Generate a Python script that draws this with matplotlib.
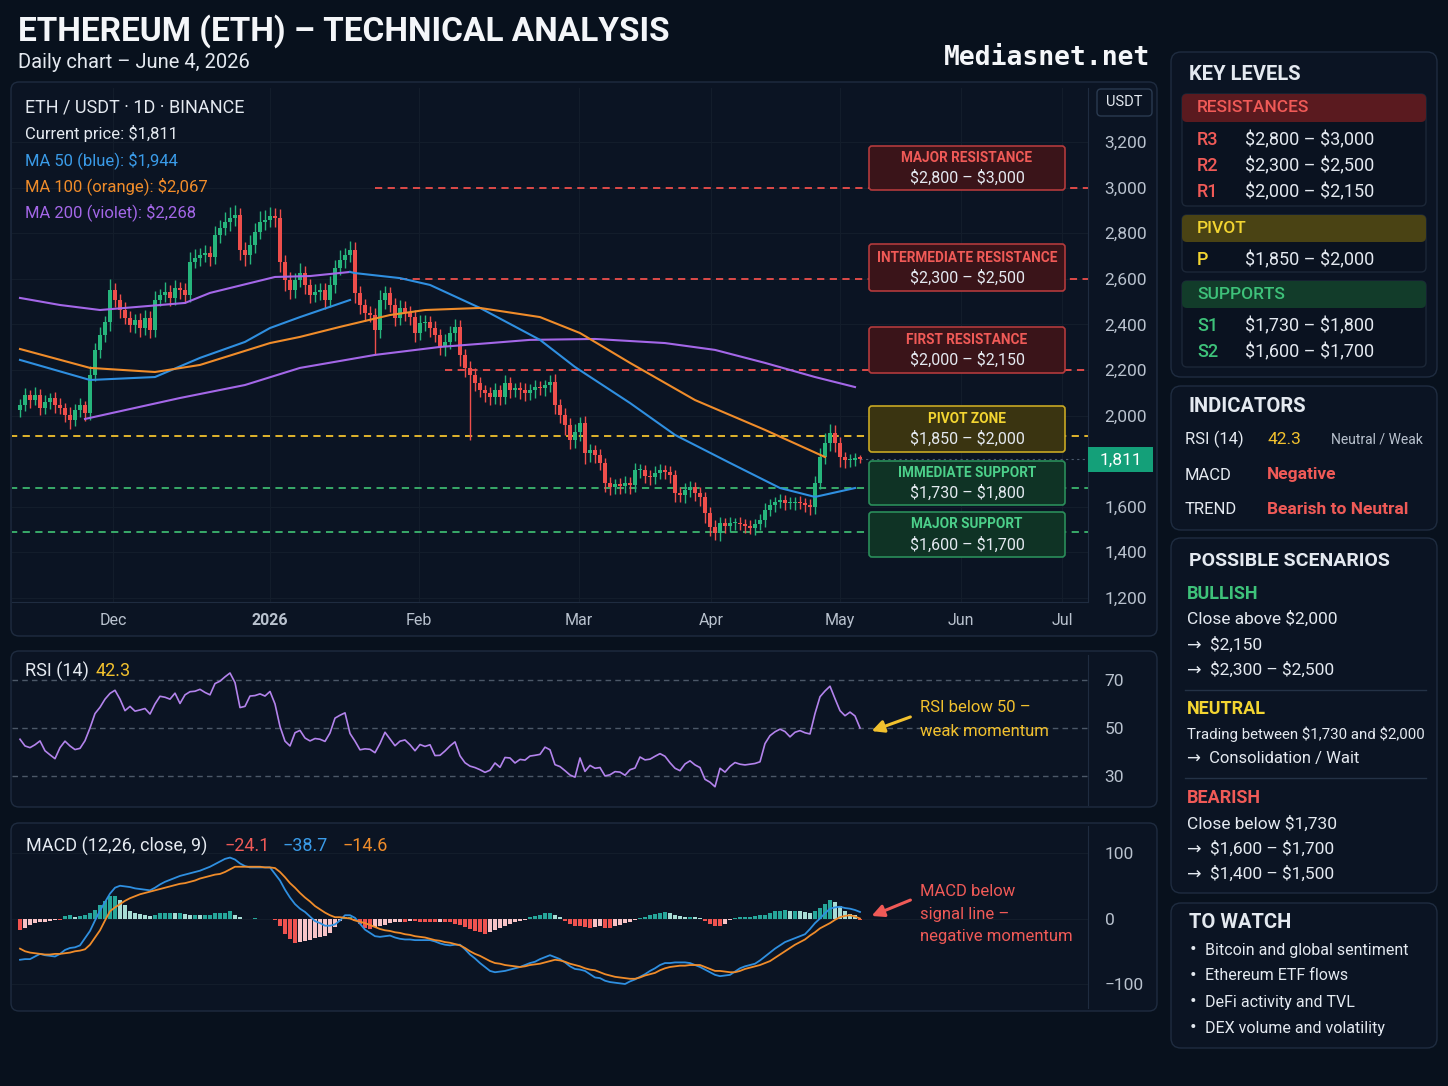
import numpy as np
import matplotlib
matplotlib.use("Agg")
import matplotlib.pyplot as plt
from matplotlib import font_manager
from matplotlib.patches import FancyBboxPatch, Rectangle

# --- fonts
avail = {f.name for f in font_manager.fontManager.ttflist}
FONT = next(f for f in ["Liberation Sans Narrow", "Roboto", "DejaVu Sans"] if f in avail)
plt.rcParams["font.family"] = [FONT, "DejaVu Sans"]

# --- data (daily candles, one per day)
first_open = 2025
close = [
    2046, 2090, 2068, 2090, 2033, 2060, 2077, 2046, 2033, 2003, 1981, 2025, 2046,
    2011, 2178, 2288, 2353, 2410, 2551, 2507, 2463, 2428, 2397, 2419, 2384, 2428,
    2375, 2507, 2529, 2542, 2516, 2560, 2551, 2529, 2674, 2691, 2704, 2713, 2696,
    2792, 2823, 2849, 2867, 2880, 2726, 2704, 2748, 2805, 2849, 2858, 2875, 2867,
    2674, 2595, 2551, 2595, 2625, 2573, 2529, 2542, 2551, 2507, 2573, 2647, 2682,
    2704, 2726, 2538, 2485, 2450, 2441, 2375, 2507, 2538, 2485, 2428, 2472, 2454,
    2432, 2362, 2406, 2410, 2384, 2353, 2301, 2323, 2362, 2389, 2266, 2209, 2178,
    2143, 2112, 2099, 2082, 2112, 2082, 2143, 2112, 2121, 2112, 2099, 2112, 2125,
    2121, 2134, 2147, 2046, 2003, 1959, 1893, 1928, 1968, 1836, 1849, 1827, 1792,
    1704, 1687, 1700, 1691, 1704, 1696, 1761, 1761, 1735, 1731, 1748, 1761, 1753,
    1739, 1660, 1652, 1674, 1687, 1660, 1643, 1573, 1511, 1485, 1529, 1516, 1529,
    1529, 1525, 1516, 1507, 1525, 1542, 1586, 1608, 1621, 1630, 1617, 1617, 1621,
    1617, 1608, 1599, 1704, 1818, 1880, 1924, 1880, 1818, 1805, 1805, 1814, 1811,
]
wick_up = [
    25, 30, 20, 35, 25, 30, 20, 25, 30, 20, 35, 25, 30,
    20, 40, 30, 35, 25, 50, 30, 25, 35, 30, 25, 30, 35,
    30, 40, 25, 45, 30, 35, 25, 30, 45, 40, 30, 35, 30,
    40, 35, 45, 50, 45, 30, 35, 45, 40, 50, 45, 40, 35,
    40, 30, 35, 30, 45, 30, 25, 35, 30, 30, 40, 35, 45,
    30, 40, 35, 30, 25, 30, 30, 45, 30, 25, 30, 35, 30,
    25, 30, 35, 30, 25, 30, 25, 35, 30, 35, 30, 25, 30,
    30, 25, 20, 25, 30, 20, 35, 25, 20, 25, 30, 25, 30,
    25, 20, 30, 35, 25, 30, 30, 35, 25, 30, 25, 20, 25,
    20, 25, 20, 25, 30, 25, 30, 25, 20, 25, 30, 25, 20,
    25, 20, 25, 30, 25, 20, 25, 20, 25, 30, 25, 20, 25,
    20, 25, 20, 25, 20, 25, 30, 25, 20, 25, 20, 25, 20,
    25, 20, 25, 30, 40, 45, 40, 35, 25, 20, 25, 20, 15,
]
wick_dn = [
    30, 25, 35, 20, 30, 25, 30, 35, 25, 30, 40, 25, 30,
    35, 30, 25, 35, 30, 40, 30, 35, 25, 30, 35, 40, 30,
    35, 30, 25, 30, 35, 30, 40, 35, 30, 25, 35, 30, 40,
    30, 35, 30, 40, 35, 45, 50, 40, 35, 30, 35, 30, 40,
    45, 50, 40, 35, 30, 40, 35, 30, 35, 40, 30, 35, 30,
    35, 30, 45, 40, 35, 30, 110, 35, 40, 30, 35, 30, 40,
    35, 40, 30, 35, 40, 30, 35, 40, 30, 35, 50, 40, 285,
    35, 30, 40, 35, 30, 35, 30, 35, 30, 40, 35, 30, 35,
    30, 35, 30, 40, 35, 45, 40, 35, 40, 50, 40, 35, 30,
    40, 35, 30, 35, 30, 40, 30, 35, 30, 35, 30, 25, 30,
    35, 40, 30, 35, 30, 35, 40, 45, 40, 30, 35, 30, 25,
    30, 25, 30, 25, 30, 25, 30, 25, 30, 25, 30, 25, 30,
    25, 30, 35, 30, 25, 30, 35, 40, 45, 35, 30, 25, 20,
]

# moving averages as drawn (day index, price)
ma50_day = [66, 67, 76, 82, 92, 104, 111, 122, 131, 142, 152, 159, 167]
ma50_val = [2630, 2625, 2603, 2573, 2472, 2332, 2213, 2055, 1915, 1792, 1682, 1643, 1682]
ma50b_day = [0, 14, 27, 36, 45, 50, 56, 66]
ma50b_val = [2244, 2156, 2169, 2253, 2323, 2384, 2432, 2507]
ma100_day = [0, 14, 27, 36, 50, 56, 64, 74, 81, 92, 104, 112, 122, 135, 149, 161]
ma100_val = [2292, 2209, 2191, 2222, 2318, 2345, 2389, 2441, 2463, 2472, 2432, 2362, 2231, 2068, 1937, 1818]
ma200_day = [13, 32, 45, 56, 71, 84, 94, 102, 115, 129, 139, 149, 159, 167]
ma200_val = [1985, 2077, 2134, 2209, 2266, 2301, 2318, 2332, 2336, 2318, 2288, 2231, 2169, 2125]
ma200b_day = [0, 8, 16, 33, 38, 51, 58, 66]
ma200b_val = [2516, 2485, 2463, 2494, 2538, 2608, 2612, 2630]

rsi = [
    45.3, 42.5, 41.8, 43.0, 44.6, 40.5, 38.8, 37.2, 41.8, 44.5, 42.5, 41.0, 41.5,
    44.7, 50.0, 56.0, 58.6, 62.0, 64.4, 65.7, 62.0, 57.2, 59.0, 57.0, 57.5, 58.1,
    55.8, 60.0, 63.2, 62.8, 62.0, 64.5, 60.2, 63.8, 65.1, 65.3, 66.1, 64.8, 63.8,
    68.5, 69.5, 71.3, 72.9, 68.9, 58.5, 59.0, 63.3, 63.5, 64.2, 63.3, 65.2, 60.0,
    50.6, 44.5, 42.5, 48.0, 49.0, 45.8, 44.6, 45.6, 45.3, 44.4, 47.9, 54.1, 55.3,
    56.3, 47.7, 44.5, 40.9, 41.3, 41.1, 39.7, 43.5, 48.2, 45.4, 42.6, 44.5, 45.0,
    43.0, 40.5, 43.1, 42.3, 43.0, 38.5, 38.6, 40.4, 42.5, 44.2, 38.4, 35.5, 34.1,
    33.5, 32.6, 31.5, 32.4, 35.4, 33.6, 37.7, 37.5, 35.4, 36.9, 36.6, 38.3, 38.6,
    39.0, 42.0, 40.9, 34.7, 33.9, 32.2, 30.4, 29.5, 37.5, 31.9, 34.4, 33.2, 33.5,
    30.0, 30.5, 31.8, 31.6, 30.3, 32.6, 33.3, 37.9, 36.7, 37.0, 38.2, 39.3, 38.2,
    35.5, 33.2, 32.2, 35.0, 36.3, 34.6, 33.5, 28.6, 27.4, 25.5, 33.2, 31.6, 34.0,
    35.6, 34.9, 34.6, 34.9, 35.2, 35.9, 43.5, 46.8, 48.4, 49.5, 48.5, 46.3, 48.2,
    48.9, 48.0, 47.5, 56.0, 63.0, 65.4, 67.4, 62.2, 57.2, 55.1, 56.6, 55.0, 50.0,
]
macd = [
    -63, -62, -62, -58, -54, -56, -57, -58, -54, -48, -45, -44, -41,
    -30, -19, -3, 12, 25, 38, 47, 50, 49, 48, 46, 45, 44,
    43, 47, 52, 56, 59, 62, 65, 67, 69, 71, 73, 76, 79,
    83, 87, 91, 93, 90, 84, 80, 78, 78, 78, 78, 78, 68,
    58, 44, 32, 22, 15, 10, 3, -4, -7, -11, -11, -9, -3,
    5, 5, 1, -8, -17, -22, -27, -28, -27, -26, -29, -31, -32,
    -32, -33, -33, -33, -33, -35, -38, -40, -41, -40, -40, -47, -55,
    -61, -68, -74, -80, -82, -81, -80, -78, -76, -74, -71, -68, -66,
    -62, -59, -56, -59, -62, -67, -73, -77, -78, -80, -85, -90, -91,
    -95, -97, -98, -99, -100, -96, -93, -89, -85, -80, -76, -71, -68,
    -68, -67, -67, -67, -68, -71, -74, -78, -82, -86, -88, -87, -86,
    -81, -76, -73, -71, -69, -64, -58, -52, -46, -41, -36, -33, -30,
    -27, -24, -16, -7, 0, 8, 15, 17, 18, 16, 15, 13, 10,
]
signal = [
    -46, -50, -52, -53, -54, -55, -55, -54, -54, -53, -52, -50, -49,
    -47, -40, -29, -18, -3, 11, 17, 22, 27, 31, 34, 37, 39,
    41, 43, 45, 47, 49, 51, 53, 54, 56, 58, 61, 63, 65,
    67, 68, 71, 75, 79, 79, 79, 79, 79, 79, 78, 78, 77,
    71, 63, 54, 47, 39, 32, 26, 19, 14, 9, 5, 2, 2,
    1, 0, -3, -5, -7, -10, -13, -16, -18, -19, -21, -22, -24,
    -25, -27, -28, -29, -31, -33, -34, -36, -37, -39, -41, -45, -50,
    -54, -57, -61, -65, -68, -69, -71, -72, -73, -74, -73, -71, -70,
    -69, -67, -65, -63, -64, -66, -69, -71, -73, -76, -78, -79, -82,
    -85, -87, -89, -90, -91, -92, -92, -90, -87, -85, -83, -79, -76,
    -74, -73, -72, -72, -71, -71, -71, -74, -77, -80, -80, -81, -82,
    -82, -80, -77, -75, -73, -71, -68, -65, -60, -55, -50, -45, -40,
    -36, -32, -26, -21, -15, -11, -7, -2, 2, 4, 5, 3, 0,
]
hist = [
    -18, -15, -10, -7, -6, -5, -4, -3, -3, 4, 5, 3, 4,
    6, 9, 13, 20, 27, 34, 34, 29, 20, 12, 9, 7, 6,
    4, 6, 8, 8, 9, 8, 8, 7, 6, 6, 5, 5, 6,
    8, 8, 9, 11, 6, 2, -1, 0, 1, -1, -1, 0, -3,
    -12, -24, -32, -38, -36, -35, -33, -30, -28, -26, -22, -13, -4,
    2, 3, -4, -9, -14, -16, -13, -11, -10, -7, -6, -5, -5,
    -4, -4, -5, -5, -6, -6, -5, -5, -6, -8, -10, -13, -16,
    -19, -21, -23, -21, -17, -15, -11, -8, -6, -4, -3, 2, 4,
    6, 8, 8, 5, 3, -4, -9, -11, -12, -13, -14, -13, -12,
    -14, -14, -12, -10, -7, -5, -2, 1, 3, 5, 7, 9, 10,
    9, 6, 4, 3, 3, 2, 1, -4, -8, -11, -11, -8, -3,
    1, 2, 3, 3, 4, 5, 6, 9, 11, 12, 13, 12, 12,
    11, 10, 9, 12, 16, 22, 28, 25, 19, 12, 7, 5, -3,
]

levels = [3000, 2600, 2200, 1910, 1680, 1490]
level_start = [71, 76, 85, -2, -2, -2]
price_ticks = [1200, 1400, 1600, 2000, 2200, 2400, 2600, 2800, 3000, 3200]
month_pos = [18.6, 50, 79.8, 111.8, 138.2, 164, 188.2, 208.4]
month_lab = ["Dec", "2026", "Feb", "Mar", "Apr", "May", "Jun", "Jul"]

# --- colours
BG = "#08111d"
PANEL = "#0b1423"
EDGE = "#1f2c40"
GRID = "#131d2b"
TXT = "#e4e9f0"
SUB = "#b9c2ce"
GREEN = "#26b57c"
RED = "#ee4e4b"
BLUE = "#2f8fe0"
ORANGE = "#f08c2a"
VIOLET = "#a467e8"
YEL = "#f2c12e"
LRED = "#f05a57"
LGREEN = "#3ec27a"

W, H = 1448, 1086
fig = plt.figure(figsize=(W / 100, H / 100), dpi=100, facecolor=BG)


def rect(x0, y0, x1, y1):
    return [x0 / W, 1 - y1 / H, (x1 - x0) / W, (y1 - y0) / H]


def overlay(z):
    a = fig.add_axes([0, 0, 1, 1], zorder=z)
    a.set_xlim(0, W)
    a.set_ylim(H, 0)
    a.axis("off")
    a.patch.set_alpha(0)
    return a


bg = overlay(0)
fg = overlay(10)


def box(ax, x0, y0, x1, y1, fc, ec, r=8, lw=1.0):
    ax.add_patch(FancyBboxPatch((x0, y0), x1 - x0, y1 - y0,
                                boxstyle=f"round,pad=0,rounding_size={r}",
                                fc=fc, ec=ec, lw=lw))


def txt(x, y, s, size, color=TXT, weight="normal", ha="left", ax=fg, **kw):
    ax.text(x, y, s, fontsize=size, color=color, fontweight=weight,
            ha=ha, va="center", parse_math=False, **kw)


# panel backgrounds
box(bg, 11, 82, 1157, 636, PANEL, EDGE)
box(bg, 11, 651, 1157, 807, PANEL, EDGE)
box(bg, 11, 823, 1157, 1011, PANEL, EDGE)
box(bg, 1171, 52, 1437, 377, PANEL, EDGE, r=10)
box(bg, 1171, 386, 1437, 530, PANEL, EDGE, r=10)
box(bg, 1171, 538, 1437, 893, PANEL, EDGE, r=10)
box(bg, 1171, 903, 1437, 1048, PANEL, EDGE, r=10)

# --- price chart
ax = fig.add_axes(rect(12, 88, 1088, 602), zorder=2)
ax.patch.set_alpha(0)
n = len(close)
idx = np.arange(n)
c = np.array(close, float)
o = np.concatenate([[first_open], c[:-1]])
hi = np.maximum(o, c) + np.array(wick_up)
lo = np.minimum(o, c) - np.array(wick_dn)
col = np.where(c >= o, GREEN, RED)
ax.vlines(idx, lo, hi, colors=col, lw=1.0, zorder=3)
ax.bar(idx, np.maximum(np.abs(c - o), 5), bottom=np.minimum(o, c), width=0.75,
       color=col, zorder=4)

ax.plot(ma200b_day, ma200b_val, color=VIOLET, lw=1.5, zorder=5)
ax.plot(ma200_day, ma200_val, color=VIOLET, lw=1.5, zorder=5)
ax.plot(ma50b_day, ma50b_val, color=BLUE, lw=1.5, zorder=5)
ax.plot(ma50_day, ma50_val, color=BLUE, lw=1.5, zorder=5)
ax.plot(ma100_day, ma100_val, color=ORANGE, lw=1.5, zorder=5)

lvl_col = [RED, RED, RED, YEL, "#3cb66f", "#3cb66f"]
for lv, st, lc in zip(levels, level_start, lvl_col):
    ax.hlines(lv, st, 214, colors=lc, lw=1.3, linestyles=(0, (4, 3)), zorder=2)
ax.hlines(close[-1], n - 1, 214, colors="#4a5a6c", lw=0.8, linestyles=(0, (2, 3)), zorder=2)

ax.set_xlim(-1.6, 213.6)
ax.set_ylim(1182, 3437)
ax.set_yticks(price_ticks)
ax.set_yticklabels([f"{v:,}" for v in price_ticks])
ax.yaxis.tick_right()
ax.set_xticks(month_pos)
ax.set_xticklabels(month_lab)
for lab in ax.get_xticklabels():
    if lab.get_text() == "2026":
        lab.set_fontweight("bold")
ax.tick_params(axis="y", length=0, pad=12, labelsize=12.5, colors=SUB)
ax.tick_params(axis="x", length=0, pad=8, labelsize=11.5, colors=SUB)
ax.grid(True, color=GRID, lw=0.8)
ax.set_axisbelow(True)
for s in ["top", "left"]:
    ax.spines[s].set_visible(False)
for s in ["right", "bottom"]:
    ax.spines[s].set_color(EDGE)

# --- RSI
ar = fig.add_axes(rect(12, 655, 1088, 805), zorder=2)
ar.patch.set_alpha(0)
for lv in [70, 50, 30]:
    ar.axhline(lv, color="#4c5868", lw=1, ls=(0, (4, 3)))
ar.plot(idx, rsi, color="#b383ec", lw=1.2)
ar.set_xlim(-1.6, 213.6)
ar.set_ylim(17.9, 80.4)
ar.set_yticks([30, 50, 70])
ar.yaxis.tick_right()
ar.set_xticks([])
ar.tick_params(axis="y", length=0, pad=12, labelsize=12.5, colors=SUB)
for s in ["top", "left", "bottom"]:
    ar.spines[s].set_visible(False)
ar.spines["right"].set_color(EDGE)

# --- MACD
am = fig.add_axes(rect(12, 826, 1088, 1008), zorder=2)
am.patch.set_alpha(0)
h = np.array(hist, float)
prev = np.concatenate([[0], h[:-1]])
hcol = np.where(h >= 0, np.where(h >= prev, "#26a69a", "#a8dcd4"),
                np.where(h <= prev, "#ef5350", "#f7c3c6"))
am.bar(idx, h, width=0.75, color=hcol, zorder=2)
am.plot(idx, macd, color="#2f8fe0", lw=1.3, zorder=3)
am.plot(idx, signal, color=ORANGE, lw=1.3, zorder=3)
am.set_xlim(-1.6, 213.6)
am.set_ylim(-136.6, 141.2)
am.set_yticks([-100, 0, 100])
am.set_yticklabels(["\u2212100", "0", "100"])
am.yaxis.tick_right()
am.set_xticks([])
am.grid(True, axis="y", color=GRID, lw=0.8)
am.tick_params(axis="y", length=0, pad=12, labelsize=12.5, colors=SUB)
for s in ["top", "left", "bottom"]:
    am.spines[s].set_visible(False)
am.spines["right"].set_color(EDGE)

# --- titles
txt(18, 31, "ETHEREUM (ETH) \u2013 TECHNICAL ANALYSIS", 24, "#f4f6f9", "bold")
txt(18, 63, "Daily chart \u2013 June 4, 2026", 14.5, TXT)
fg.text(1150, 58, "Mediasnet.net", fontsize=19, color="#f4f6f9", fontweight="bold",
        family="DejaVu Sans Mono", ha="right", va="center")

txt(25, 107, "ETH / USDT \u00b7 1D \u00b7 BINANCE", 13, TXT)
txt(25, 134, "Current price: $1,811", 12, TXT)
txt(25, 160, "MA 50 (blue): $1,944", 12, "#3a9be8")
txt(25, 186, "MA 100 (orange): $2,067", 12, ORANGE)
txt(25, 212, "MA 200 (violet): $2,268", 12, VIOLET)

# USDT tag and current price tag
box(fg, 1097, 89, 1152, 116, PANEL, "#2a3a50", r=4)
txt(1124.5, 102.5, "USDT", 10.5, TXT, ha="center")
fg.add_patch(Rectangle((1088, 447), 65, 25, fc="#14a079", ec="none"))
txt(1120.5, 460, "1,811", 12.5, "#ffffff", ha="center")

# level label boxes
lbl = [
    (146, 190, "MAJOR RESISTANCE", "$2,800 \u2013 $3,000", "r"),
    (244, 291, "INTERMEDIATE RESISTANCE", "$2,300 \u2013 $2,500", "r"),
    (327, 373, "FIRST RESISTANCE", "$2,000 \u2013 $2,150", "r"),
    (406, 452, "PIVOT ZONE", "$1,850 \u2013 $2,000", "y"),
    (461, 505, "IMMEDIATE SUPPORT", "$1,730 \u2013 $1,800", "g"),
    (512, 557, "MAJOR SUPPORT", "$1,600 \u2013 $1,700", "g"),
]
sty = {"r": ("#3a1419", "#b33a3c", LRED),
       "y": ("#3a3411", "#c8a823", "#f3d531"),
       "g": ("#0f3325", "#2a8e5a", "#4cd08a")}
for y0, y1, t, v, k in lbl:
    fc, ec, tc = sty[k]
    box(fg, 869, y0, 1065, y1, fc, ec, r=3, lw=1.2)
    ym = (y0 + y1) / 2
    txt(967, ym - 10, t, 9.8, tc, "bold", ha="center")
    txt(967, ym + 10, v, 11.5, TXT, ha="center")

# indicator headers
txt(25, 671, "RSI (14)", 13, TXT)
txt(96, 671, "42.3", 13, YEL)
fg.annotate("", xy=(869, 732), xytext=(913, 716),
            arrowprops=dict(arrowstyle="-|>", color=YEL, lw=2.2, mutation_scale=18))
txt(920, 708, "RSI below 50 \u2013", 12, YEL)
txt(920, 731, "weak momentum", 12, YEL)

txt(26, 846, "MACD (12,26, close, 9)", 13, TXT)
txt(224, 846, "\u221224.1", 13, LRED)
txt(283, 846, "\u221238.7", 13, "#3a9be8")
txt(343, 846, "\u221214.6", 13, ORANGE)
fg.annotate("", xy=(869, 917), xytext=(913, 899),
            arrowprops=dict(arrowstyle="-|>", color=LRED, lw=2.2, mutation_scale=18))
txt(920, 892, "MACD below", 12, LRED)
txt(920, 914, "signal line \u2013", 12, LRED)
txt(920, 937, "negative momentum", 12, LRED)

# --- right column: key levels
txt(1189, 75, "KEY LEVELS", 14.5, TXT, "bold")
sections = [
    (94, 122, 206, "RESISTANCES", "#5a1a1f", LRED,
     [("R3", "$2,800 \u2013 $3,000"), ("R2", "$2,300 \u2013 $2,500"), ("R1", "$2,000 \u2013 $2,150")]),
    (215, 242, 272, "PIVOT", "#4a4314", "#f3d531", [("P", "$1,850 \u2013 $2,000")]),
    (281, 308, 367, "SUPPORTS", "#123c2a", LGREEN,
     [("S1", "$1,730 \u2013 $1,800"), ("S2", "$1,600 \u2013 $1,700")]),
]
for y0, y1, y2, title, hc, tc, rows in sections:
    box(fg, 1182, y0, 1426, y2, "#0a1220", "#1c2738", r=5)
    box(fg, 1182, y0, 1426, y1, hc, "none", r=5)
    txt(1197, (y0 + y1) / 2, title, 12.5, tc, "medium")
    for k, (a, b) in enumerate(rows):
        yy = y1 + 18 + 26 * k
        txt(1197, yy, a, 13, tc, "medium")
        txt(1245, yy, b, 13, TXT)

# indicators
txt(1189, 406, "INDICATORS", 14.5, TXT, "bold")
txt(1185, 439, "RSI (14)", 12, TXT)
txt(1267, 439, "42.3", 12.5, YEL)
txt(1331, 439, "Neutral / Weak", 10, SUB)
txt(1185, 475, "MACD", 12, TXT)
txt(1267, 475, "Negative", 12.5, LRED, "bold")
txt(1185, 510, "TREND", 12, TXT)
txt(1267, 510, "Bearish to Neutral", 12.5, LRED, "bold")

# scenarios
txt(1189, 561, "POSSIBLE SCENARIOS", 14, TXT, "bold")
txt(1187, 594, "BULLISH", 13, LGREEN, "bold")
txt(1187, 619, "Close above $2,000", 12.5, TXT)
txt(1187, 645, "\u2192  $2,150", 12.5, TXT)
txt(1187, 670, "\u2192  $2,300 \u2013 $2,500", 12.5, TXT)
fg.plot([1185, 1426], [690, 690], color="#243246", lw=1)
txt(1187, 709, "NEUTRAL", 13, "#f3d531", "bold")
txt(1187, 734, "Trading between $1,730 and $2,000", 10.8, TXT)
txt(1187, 758, "\u2192  Consolidation / Wait", 12, TXT)
fg.plot([1185, 1426], [778, 778], color="#243246", lw=1)
txt(1187, 798, "BEARISH", 13, LRED, "bold")
txt(1187, 824, "Close below $1,730", 12.5, TXT)
txt(1187, 849, "\u2192  $1,600 \u2013 $1,700", 12.5, TXT)
txt(1187, 874, "\u2192  $1,400 \u2013 $1,500", 12.5, TXT)

# to watch
txt(1189, 922, "TO WATCH", 14.5, TXT, "bold")
watch = ["Bitcoin and global sentiment", "Ethereum ETF flows",
         "DeFi activity and TVL", "DEX volume and volatility"]
for k, s in enumerate(watch):
    txt(1190, 950 + 26 * k, "\u2022", 14, TXT)
    txt(1205, 950 + 26 * k, s, 11.5, TXT)

fig.savefig("out.png", dpi=100, facecolor=BG)
